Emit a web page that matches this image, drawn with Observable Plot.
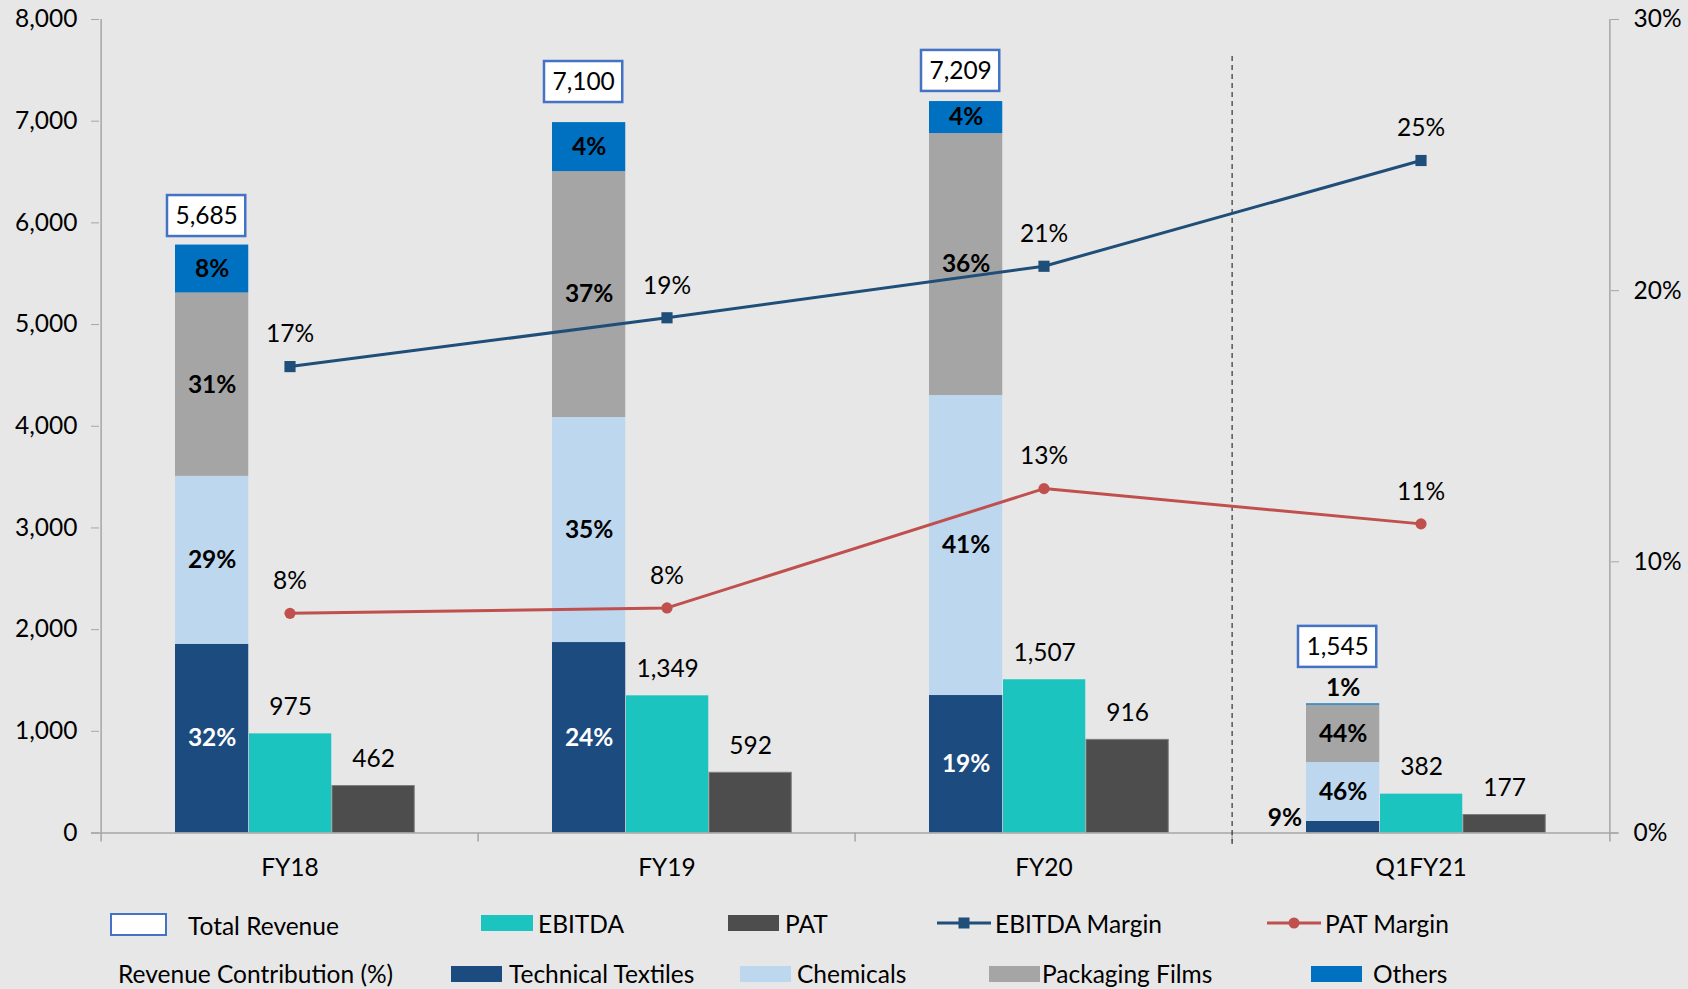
<!DOCTYPE html>
<html>
<head>
<meta charset="utf-8">
<script src="https://cdn.jsdelivr.net/npm/d3@7"></script>
<script src="https://cdn.jsdelivr.net/npm/@observablehq/plot@0.6"></script>
<style>
html, body { margin: 0; padding: 0; background: #e7e7e7; }
#wrap { position: relative; width: 1688px; height: 989px; overflow: hidden; font-family: Lato, "Open Sans", sans-serif; }
#chart svg { display: block; }
#legend { position: absolute; left: 0; top: 890px; width: 1688px; height: 99px; }
.lt { position: absolute; height: 30px; line-height: 30px; font-size: 24.5px; color: #000; white-space: nowrap; }
.sw { position: absolute; box-sizing: border-box; }
</style>
</head>
<body>
<div id="wrap"><div id="chart"></div><div id="legend"></div></div>
<script>
// ---------------- data ----------------
const categories = ["FY18", "FY19", "FY20", "Q1FY21"];
const segmentNames = ["Technical Textiles", "Chemicals", "Packaging Films", "Others"];
const technicalTextiles = [1856, 1873, 1352, 113];
const chemicals = [1651, 2213, 2950, 580];
const packagingFilms = [1803, 2418, 2576, 564];
const others = [472, 482, 315, 13];
const technicalTextilesPct = [32, 24, 19, 9];
const chemicalsPct = [29, 35, 41, 46];
const packagingFilmsPct = [31, 37, 36, 44];
const othersPct = [8, 4, 4, 1];
const totalRevenue = [5685, 7100, 7209, 1545];
const ebitda = [975, 1349, 1507, 382];
const pat = [462, 592, 916, 177];
const ebitdaMargin = [17.2, 19.0, 20.9, 24.8];
const patMargin = [8.1, 8.3, 12.7, 11.4];
const ebitdaMarginLabel = [17, 19, 21, 25];
const patMarginLabel = [8, 8, 13, 11];
const leftTicks = [0, 1000, 2000, 3000, 4000, 5000, 6000, 7000, 8000];
const rightTicks = [0, 10, 20, 30];
const legendRow1 = ["Total Revenue", "EBITDA", "PAT", "EBITDA Margin", "PAT Margin"];
const legendRow2Title = "Revenue Contribution (%)";

// ---------------- styles ----------------
const segColors = ["#1c4b7f", "#bdd7ee", "#a5a5a5", "#0070c0"];
const ebitdaColor = "#1cc4bf";
const patColor = "#4d4d4d";
const emColor = "#1f4e79";
const pmColor = "#c0504d";
const axisColor = "#a6a6a6";

const W = 1688, H = 890, mL = 99, mR = 78, mT = 19, mB = 57.5;
const bw = (W - mL - mR) / categories.length;
const LEFT_MAX = 8000, RIGHT_MAX = 30;
const toLeft = p => p * LEFT_MAX / RIGHT_MAX;

// ---------------- tables ----------------
const segValues = [technicalTextiles, chemicals, packagingFilms, others];
const segPct = [technicalTextilesPct, chemicalsPct, packagingFilmsPct, othersPct];
const rows = [];
const fin = [];
categories.forEach((cat, i) => {
  let base = 0;
  segmentNames.forEach((seg, k) => {
    const v = segValues[k][i];
    rows.push({cat, seg, k, y1: base, y2: base + v, mid: base + v / 2, value: v, pct: segPct[k][i]});
    base += v;
  });
  fin.push({
    cat, ebitda: ebitda[i], pat: pat[i],
    em: toLeft(ebitdaMargin[i]), pm: toLeft(patMargin[i]),
    emLabel: ebitdaMarginLabel[i] + "%", pmLabel: patMarginLabel[i] + "%",
    total: totalRevenue[i], anchor: Math.max(totalRevenue[i], base)
  });
});
const SMALL = 150;
const inside = rows.filter(d => d.value >= SMALL);
const smallFirst = rows.filter(d => d.value < SMALL && d.k === 0);
const smallLast = rows.filter(d => d.value < SMALL && d.k === segmentNames.length - 1);

// horizontal layout inside each category band
const stackL = 74, stackR = 148, ebL = 148, ebR = 231, patL = 231, patR = 314, boxL = 66, boxR = 145;
const center = bw / 2;
const stackDx = (stackL + stackR) / 2 - center;
const ebDx = (ebL + ebR) / 2 - center;
const patDx = (patL + patR) / 2 - center;
const boxDx = (boxL + boxR) / 2 - center;
const fs = 24.5;
const fmt = d3.format(",");

const chart = Plot.plot({
  width: W, height: H,
  marginLeft: mL, marginRight: mR, marginTop: mT, marginBottom: mB,
  style: {background: "transparent", fontFamily: "Lato, 'Open Sans', sans-serif", fontSize: fs + "px", color: "#000", overflow: "visible"},
  x: {type: "band", domain: categories, padding: 0},
  y: {domain: [0, LEFT_MAX]},
  color: {domain: segmentNames, range: segColors},
  marks: [
    // stacked revenue contribution bars
    Plot.barY(rows, {x: "cat", y1: "y1", y2: "y2", fill: "seg", insetLeft: stackL, insetRight: bw - stackR}),
    // EBITDA & PAT bars
    Plot.barY(fin, {x: "cat", y: "ebitda", fill: ebitdaColor, insetLeft: ebL, insetRight: bw - ebR}),
    Plot.barY(fin, {x: "cat", y: "pat", fill: patColor, stroke: "#7f7f7f", strokeWidth: 1, insetLeft: patL, insetRight: bw - patR}),
    // axes lines
    Plot.ruleY([0], {stroke: axisColor, strokeWidth: 1.5, insetLeft: -8, insetRight: -8}),
    Plot.ruleX([categories[0]], {x: d => d, dx: -bw / 2, stroke: axisColor, strokeWidth: 1.5, insetBottom: -9}),
    Plot.ruleX([categories[categories.length - 1]], {x: d => d, dx: bw / 2, stroke: axisColor, strokeWidth: 1.5, insetBottom: -9}),
    Plot.ruleX(categories.slice(1), {x: d => d, dx: -bw / 2, stroke: axisColor, strokeWidth: 1.5, insetTop: H - mT - mB, insetBottom: -9}),
    // separator dashed line
    Plot.ruleX([categories[categories.length - 1]], {x: d => d, dx: -bw / 2, stroke: "#404040", strokeWidth: 1.3, strokeDasharray: "5,4", insetTop: 37, insetBottom: -15}),
    Plot.axisY({anchor: "left", ticks: leftTicks, tickFormat: fmt, tickSize: 8, tickPadding: 14, stroke: axisColor, fill: "#000", fontSize: fs, label: null}),
    Plot.axisY({anchor: "right", ticks: rightTicks.map(toLeft), tickFormat: d => Math.round(d * RIGHT_MAX / LEFT_MAX) + "%", tickSize: 8, tickPadding: 15, stroke: axisColor, fill: "#000", fontSize: fs, label: null}),
    Plot.axisX({tickSize: 0, tickPadding: 26, fontSize: fs, fill: "#000", label: null}),
    // segment % labels
    Plot.text(inside, {x: "cat", y: "mid", text: d => d.pct + "%", dx: stackDx, fill: d => d.k === 0 ? "#ffffff" : "#000000", fontWeight: "bold", fontSize: fs}),
    Plot.text(smallFirst, {x: "cat", y: "mid", text: d => d.pct + "%", dx: stackL - center - 4, dy: -9, textAnchor: "end", fill: "#000", fontWeight: "bold", fontSize: fs}),
    Plot.text(smallLast, {x: "cat", y: "y2", text: d => d.pct + "%", dx: stackDx, dy: -16, fill: "#000", fontWeight: "bold", fontSize: fs}),
    // EBITDA / PAT value labels
    Plot.text(fin, {x: "cat", y: "ebitda", text: d => fmt(d.ebitda), dx: ebDx, dy: -27, fill: "#000", fontSize: fs}),
    Plot.text(fin, {x: "cat", y: "pat", text: d => fmt(d.pat), dx: patDx, dy: -27, fill: "#000", fontSize: fs}),
    // total revenue boxes
    Plot.barY(fin, {x: "cat", y1: "anchor", y2: "anchor", insetLeft: boxL, insetRight: bw - boxR, insetTop: -49.5, insetBottom: 8.5, fill: "#ffffff", stroke: "#4472c4", strokeWidth: 2.5}),
    Plot.text(fin, {x: "cat", y: "anchor", text: d => fmt(d.total), dx: boxDx, dy: -29, fill: "#000", fontSize: fs}),
    // margin lines
    Plot.line(fin, {x: "cat", y: "em", stroke: emColor, strokeWidth: 3}),
    Plot.dot(fin, {x: "cat", y: "em", symbol: "square", r: 6.3, fill: emColor}),
    Plot.line(fin, {x: "cat", y: "pm", stroke: pmColor, strokeWidth: 3}),
    Plot.dot(fin, {x: "cat", y: "pm", symbol: "circle", r: 5.6, fill: pmColor}),
    Plot.text(fin, {x: "cat", y: "em", text: "emLabel", dy: -32, fill: "#000", fontSize: fs}),
    Plot.text(fin, {x: "cat", y: "pm", text: "pmLabel", dy: -32, fill: "#000", fontSize: fs})
  ]
});
document.getElementById("chart").appendChild(chart);

// ---------------- legend (HTML, below the SVG) ----------------
const legend = document.getElementById("legend");
function addText(txt, left, cy) {
  const d = document.createElement("div");
  d.className = "lt"; d.textContent = txt;
  d.style.left = left + "px"; d.style.top = (cy - 15) + "px";
  legend.appendChild(d);
}
function addRect(left, cy, w, h, fill, border) {
  const d = document.createElement("div");
  d.className = "sw";
  d.style.left = left + "px"; d.style.top = (cy - h / 2) + "px";
  d.style.width = w + "px"; d.style.height = h + "px";
  d.style.background = fill;
  if (border) d.style.border = border;
  legend.appendChild(d);
}
function addLine(left, cy, w, color, marker) {
  const ns = "http://www.w3.org/2000/svg";
  const s = document.createElementNS(ns, "svg");
  s.setAttribute("width", w); s.setAttribute("height", 14);
  s.style.position = "absolute"; s.style.left = left + "px"; s.style.top = (cy - 7) + "px";
  const l = document.createElementNS(ns, "line");
  l.setAttribute("x1", 0); l.setAttribute("x2", w); l.setAttribute("y1", 7); l.setAttribute("y2", 7);
  l.setAttribute("stroke", color); l.setAttribute("stroke-width", 3);
  s.appendChild(l);
  let m;
  if (marker === "square") {
    m = document.createElementNS(ns, "rect");
    m.setAttribute("x", w / 2 - 5.5); m.setAttribute("y", 1.5); m.setAttribute("width", 11); m.setAttribute("height", 11);
  } else {
    m = document.createElementNS(ns, "circle");
    m.setAttribute("cx", w / 2); m.setAttribute("cy", 7); m.setAttribute("r", 5.5);
  }
  m.setAttribute("fill", color);
  s.appendChild(m);
  legend.appendChild(s);
}
const r1 = 34, r2 = 84;
addRect(110, r1, 57, 23, "#ffffff", "2.5px solid #4472c4");
addText(legendRow1[0], 188, r1 + 2);
addRect(481, r1 - 1, 52, 16, ebitdaColor);
addText(legendRow1[1], 538, r1);
addRect(728, r1 - 1, 51, 16, patColor);
addText(legendRow1[2], 785, r1);
addLine(937, r1 - 1, 54, emColor, "square");
addText(legendRow1[3], 995, r1);
addLine(1267, r1 - 1, 54, pmColor, "circle");
addText(legendRow1[4], 1325, r1);

addText(legendRow2Title, 118, r2);
const segSwatchLeft = [451, 740, 989, 1311];
const segTextLeft = [509, 797, 1042, 1373];
segmentNames.forEach((name, k) => {
  addRect(segSwatchLeft[k], r2, 51, 16, segColors[k]);
  addText(name, segTextLeft[k], r2);
});
</script>
</body>
</html>
